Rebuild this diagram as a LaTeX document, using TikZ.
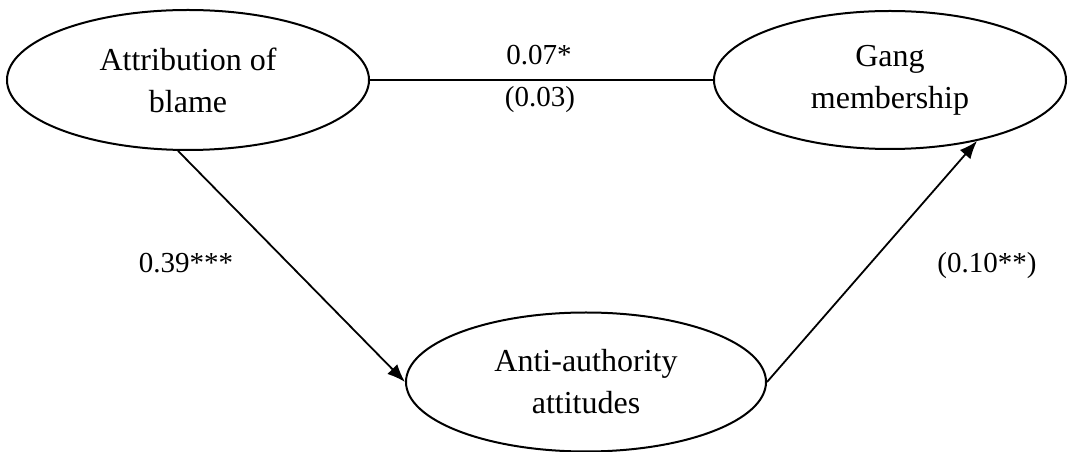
\documentclass[tikz,border=0pt]{standalone}
\usepackage{fontspec}
\setmainfont{Liberation Serif}
\usetikzlibrary{arrows.meta,shapes.geometric}

\begin{document}
\begin{tikzpicture}[
  x=1pt,
  y=1pt,
  latent/.style={draw=black, ellipse, line width=2pt, inner sep=0pt,
    align=center, font=\fontsize{32}{42}\selectfont},
  pathline/.style={draw=black, line width=1.8pt},
  patharrow/.style={pathline, -{Latex[length=18pt,width=14pt]}},
  coef/.style={anchor=base, inner sep=0pt, font=\fontsize{29}{35}\selectfont}
]
  \useasboundingbox (0,0) rectangle (1068,452);

  \node[latent, minimum width=362pt, minimum height=140pt] (blame) at (188,372) {Attribution of\\blame};
  \node[latent, minimum width=352pt, minimum height=138pt] (gang) at (890,372) {Gang\\membership};
  \node[latent, minimum width=360pt, minimum height=139pt] (anti) at (586,70) {Anti-authority\\attitudes};

  \draw[pathline] (blame.east) -- (gang.west);
  \draw[patharrow] (blame.262) -- (anti.west);
  \draw[patharrow] (anti.east) -- (gang.325);

  \node[coef] (direct) at (539,387) {0.07*};
  \node[coef] (directse) at (540,345) {(0.03)};
  \node[coef] (apath) at (186,179) {0.39***};
  \node[coef] (bpath) at (987,179) {(0.10**)};
\end{tikzpicture}
\end{document}
